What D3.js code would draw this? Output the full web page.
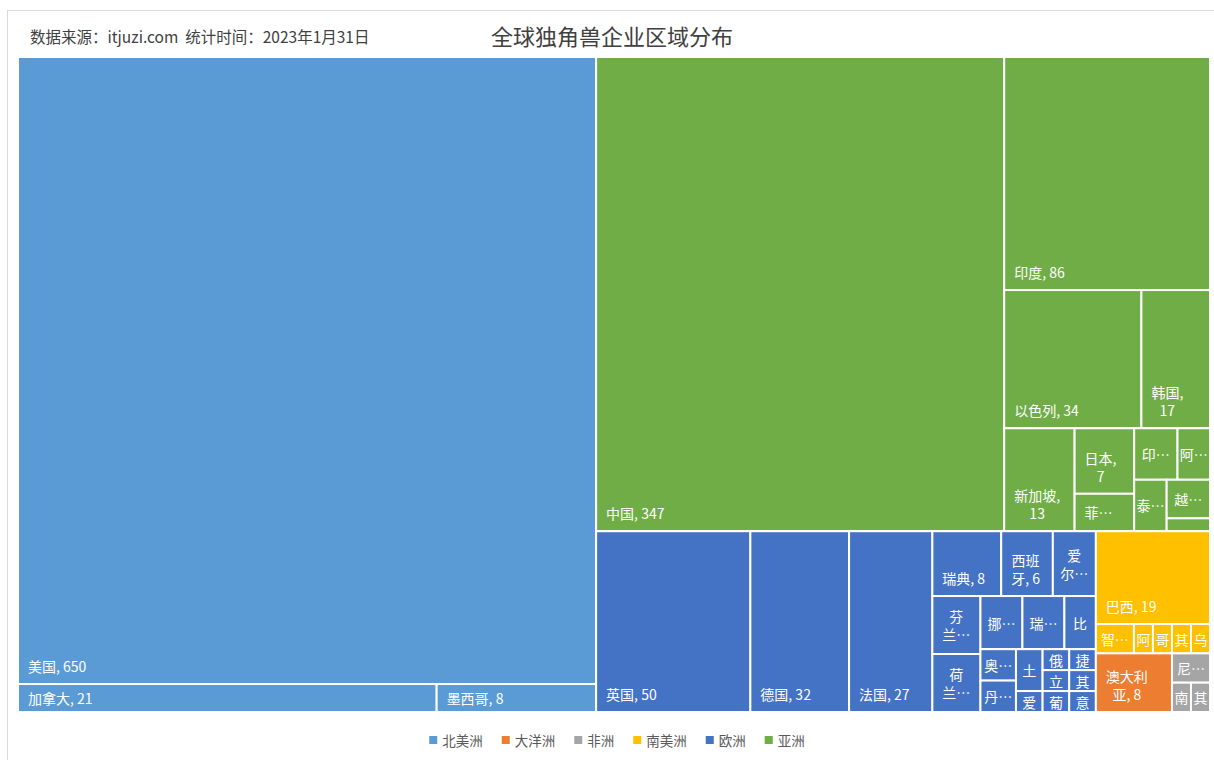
<!DOCTYPE html>
<html><head><meta charset="utf-8">
<script src="https://cdn.jsdelivr.net/npm/d3@7/dist/d3.min.js"></script>
<style>body{margin:0;background:#fff;} svg{display:block;}</style>
</head><body><svg id="chart" width="1214" height="760"></svg>
<script>
// ---- data ----
const regionNames = ["北美洲", "亚洲", "欧洲", "南美洲", "大洋洲", "非洲"];
const northAmericaNames = ["美国", "加拿大", "墨西哥"];
const northAmericaValues = [650, 21, 8];
const asiaNames = ["中国", "印度", "以色列", "韩国", "新加坡", "日本", "菲律宾", "印度尼西亚", "阿联酋", "泰国", "越南", "其他"];
const asiaValues = [347, 86, 34, 17, 13, 7, 4, 4, 3, 3, 3, 1];
const europeNames = ["英国", "德国", "法国", "瑞典", "西班牙", "爱尔兰", "芬兰", "荷兰", "挪威", "瑞士", "比利时", "奥地利", "丹麦", "土耳其", "爱沙尼亚", "俄罗斯", "捷克", "立陶宛", "葡萄牙", "其他", "意大利"];
const europeValues = [50, 32, 27, 8, 6, 5, 5, 5, 4, 4, 3, 2, 2, 2, 1, 1, 1, 1, 1, 1, 1];
const southAmericaNames = ["巴西", "智利", "阿根廷", "哥伦比亚", "其他", "乌拉圭"];
const southAmericaValues = [19, 2, 1, 1, 1, 1];
const oceaniaNames = ["澳大利亚"];
const oceaniaValues = [8];
const africaNames = ["尼日利亚", "南非", "其他"];
const africaValues = [2, 1, 1];
const legendOrder = ["北美洲", "大洋洲", "非洲", "南美洲", "欧洲", "亚洲"];
const titleText = "全球独角兽企业区域分布";
const sourceText = "数据来源：itjuzi.com  统计时间：2023年1月31日";

// ---- styles ----
const regionColors = {"北美洲": "#5B9BD5", "大洋洲": "#ED7D31", "非洲": "#A5A5A5", "南美洲": "#FFC000", "欧洲": "#4472C4", "亚洲": "#70AD47"};
const FONT = "'Noto Sans CJK SC', 'Noto Sans', sans-serif";

const regionData = [
  [northAmericaNames, northAmericaValues],
  [asiaNames, asiaValues],
  [europeNames, europeValues],
  [southAmericaNames, southAmericaValues],
  [oceaniaNames, oceaniaValues],
  [africaNames, africaValues]
];
const treeData = {name: "root", children: regionNames.map((r, i) => ({
  name: r,
  children: regionData[i][0].map((n, j) => ({name: n, value: regionData[i][1][j]}))
}))};

const W = 1214, H = 760;
const plot = {x: 18, y: 57, w: 1192, h: 655};

const root = d3.hierarchy(treeData)
  .sum(d => d.value || 0)
  .sort((a, b) => b.value - a.value);
d3.treemap().tile(d3.treemapSquarify.ratio(1.08)).size([plot.w, plot.h]).round(false)(root);

const svg = d3.select("#chart");
svg.append("rect").attr("x", 7.5).attr("y", 10.5).attr("width", W).attr("height", H)
  .attr("fill", "#fff").attr("stroke", "#d9d9d9");

svg.append("text").attr("x", 30).attr("y", 36).attr("dominant-baseline", "central")
  .attr("font-family", FONT).attr("font-size", 15.5).attr("fill", "#404040")
  .attr("xml:space", "preserve").text(sourceText);
svg.append("text").attr("x", 612).attr("y", 35).attr("dominant-baseline", "central")
  .attr("text-anchor", "middle").attr("font-family", FONT).attr("font-size", 22)
  .attr("fill", "#404040").text(titleText);

const g = svg.append("g").attr("transform", `translate(${plot.x},${plot.y})`);
const leaves = root.leaves();
g.selectAll("rect.cell").data(leaves).join("rect").attr("class", "cell")
  .attr("x", d => d.x0).attr("y", d => d.y0)
  .attr("width", d => d.x1 - d.x0).attr("height", d => d.y1 - d.y0)
  .attr("fill", d => regionColors[d.parent.data.name])
  .attr("stroke", "#fff").attr("stroke-width", 2);

// ---- labels ----
const FS = 14, LINE_H = 18, PAD_H = 10, PAD_V = 9, MIN_PAD = 2, MIN_CELL_H = 15;
const ctx = document.createElement("canvas").getContext("2d");
ctx.font = `${FS}px ${FONT}`;
const measure = s => ctx.measureText(s).width;
const isCJK = ch => /[\u2E80-\u9FFF\uF900-\uFAFF\uFF00-\uFFEF]/.test(ch);

function tokenize(str) {
  const t = [];
  for (const ch of str) {
    const last = t.length ? t[t.length - 1] : null;
    if (ch === "," && last !== null) t[t.length - 1] += ch;
    else if (ch === " ") t.push(" ");
    else if (isCJK(ch)) t.push(ch);
    else if (last && last !== " " && !isCJK(last[last.length - 1]) && !last.endsWith(",")) t[t.length - 1] += ch;
    else t.push(ch);
  }
  return t;
}
function wrap(str, avail) {
  const lines = []; let cur = "";
  for (const tk of tokenize(str)) {
    if (cur === "" && tk === " ") continue;
    const test = cur + tk;
    if (cur === "" || measure(test.trimEnd()) <= avail) cur = test;
    else { lines.push(cur.trimEnd()); cur = tk === " " ? "" : tk; }
  }
  if (cur.trim() !== "") lines.push(cur.trimEnd());
  return lines;
}

leaves.forEach(d => {
  const w = d.x1 - d.x0, h = d.y1 - d.y0;
  if (h < MIN_CELL_H) return;
  const full = `${d.data.name}, ${d.value}`;
  const avail = w - 2 * PAD_H;
  let lines = wrap(full, avail);
  const maxLines = Math.max(1, Math.floor((h - 2 * PAD_V) / LINE_H));
  let truncated = false;
  if (lines.length > maxLines) {
    truncated = true;
    lines = lines.slice(0, maxLines);
    let last = lines[maxLines - 1];
    while ([...last].length > 1 && measure(last + "…") > avail) last = [...last].slice(0, -1).join("");
    last = last.replace(/,$/, "");
    if (measure(last + "…") <= w - 2 * MIN_PAD) last += "…";
    lines[maxLines - 1] = last;
  }
  const blockH = lines.length * LINE_H;
  const blockW = d3.max(lines, measure);
  let top;
  if (!truncated && blockH + 2 * PAD_V <= h) top = d.y1 - PAD_V - blockH;
  else top = d.y0 + (h - blockH) / 2;
  const left = d.x0 + Math.min(PAD_H, (w - blockW) / 2);
  const cx = left + blockW / 2;
  const t = g.append("text").attr("font-family", FONT).attr("font-size", FS)
    .attr("fill", "#fff").attr("text-anchor", "middle");
  lines.forEach((ln, i) => {
    t.append("tspan").attr("x", cx).attr("y", top + i * LINE_H + LINE_H / 2)
      .attr("dominant-baseline", "central").text(ln);
  });
});

// ---- legend ----
const legendFS = 13.5;
ctx.font = `${legendFS}px ${FONT}`;
const itemW = legendOrder.map(n => 8 + 5 + measure(n));
const gap = 19;
const totalW = d3.sum(itemW) + gap * (legendOrder.length - 1);
let lx = 617 - totalW / 2;
const lg = svg.append("g");
legendOrder.forEach((n, i) => {
  lg.append("rect").attr("x", lx).attr("y", 736).attr("width", 8).attr("height", 8)
    .attr("fill", regionColors[n]);
  lg.append("text").attr("x", lx + 13).attr("y", 740).attr("dominant-baseline", "central")
    .attr("font-family", FONT).attr("font-size", legendFS).attr("fill", "#595959").text(n);
  lx += itemW[i] + gap;
});
</script></body></html>
